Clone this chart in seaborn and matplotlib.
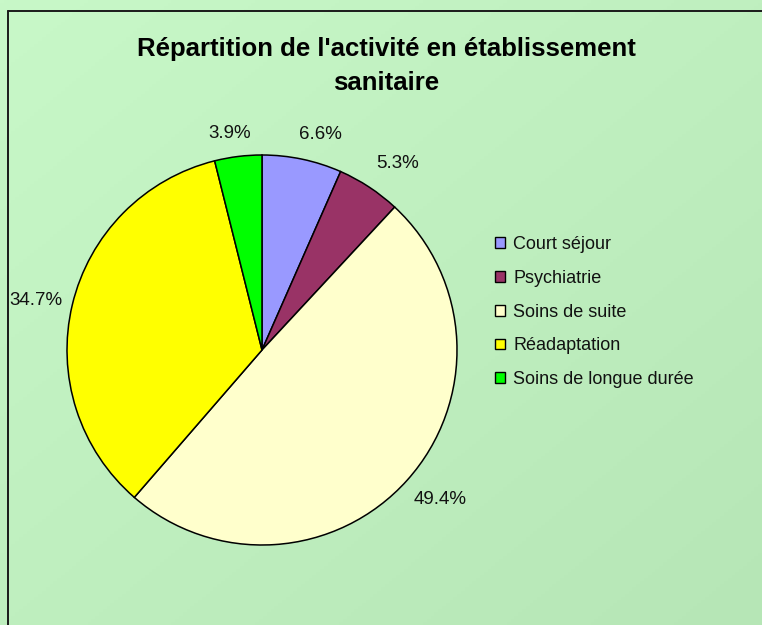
import numpy as np
import seaborn as sns
import matplotlib.pyplot as plt
from matplotlib.lines import Line2D
from matplotlib.patches import Patch

# data
categories = ['Court séjour', 'Psychiatrie', 'Soins de suite', 'Réadaptation', 'Soins de longue durée']
shares = [6.6, 5.3, 49.4, 34.7, 3.9]
colors = ['#9999FF', '#993366', '#FFFFCC', '#FFFF00', '#00FF00']
title = "Répartition de l'activité en établissement\nsanitaire"

# small hand nudges of the percentage labels (pixels, x right / y down)
label_nudge = [(10, 3), (6, 0), (-1, 1), (8, 2), (-3, 5)]

sns.set_theme(style='white')
plt.rcParams['font.family'] = ['Liberation Sans', 'DejaVu Sans']
plt.rcParams['text.color'] = '#000000'

W, H = 762, 625
fig = plt.figure(figsize=(W / 100, H / 100), dpi=100)

# gradient background
bg = fig.add_axes([0, 0, 1, 1], zorder=-10)
yy, xx = np.mgrid[0:1:200j, 0:1:200j]
t = (xx + yy) / 2
c0 = np.array([200, 248, 200]) / 255
c1 = np.array([182, 230, 182]) / 255
img = c0[None, None, :] * (1 - t[..., None]) + c1[None, None, :] * t[..., None]
bg.imshow(img, aspect='auto', extent=[0, 1, 0, 1], origin='upper')
bg.set_axis_off()

# chart frame (cropped at right and bottom)
fx, fy = 8 / W, 1 - 11 / H
fig.add_artist(Line2D([fx, fx], [0, fy], transform=fig.transFigure, color='#1a1a1a', lw=1.4))
fig.add_artist(Line2D([fx, 1], [fy, fy], transform=fig.transFigure, color='#1a1a1a', lw=1.4))

# pie
cx, cy, r = 262, 350, 195
ax = fig.add_axes([(cx - r) / W, (H - cy - r) / H, 2 * r / W, 2 * r / H])
palette = sns.color_palette(colors)
wedges, _ = ax.pie(shares, colors=palette, startangle=90, counterclock=False,
                   wedgeprops=dict(edgecolor='black', linewidth=1.1))
ax.set_xlim(-1, 1)
ax.set_ylim(-1, 1)
ax.set_aspect('equal')
ax.set_axis_off()

# percentage labels: box placed just outside the slice, Excel style
fig.canvas.draw()
renderer = fig.canvas.get_renderer()
for w, v, (nx, ny) in zip(wedges, shares, label_nudge):
    th = np.deg2rad((w.theta1 + w.theta2) / 2)
    c, s = np.cos(th), np.sin(th)
    txt = ax.text(0, 0, f'{v:.1f}%', fontsize=13.5)
    bb = txt.get_window_extent(renderer)
    txt.remove()
    ax.annotate(f'{v:.1f}%', xy=(1.1 * c, 1.1 * s),
                xytext=(bb.width / 2 * c + nx, bb.height / 2 * s - ny),
                textcoords='offset pixels', ha='center', va='center',
                fontsize=13.5, color='#111111', annotation_clip=False)

fig.text(386 / W, 1 - 66 / H, title, ha='center', va='center', fontsize=18.5,
         fontweight='bold', linespacing=1.5, color='#000000')

handles = [Patch(facecolor=c, edgecolor='black', linewidth=1.0) for c in colors]
fig.legend(handles, categories, loc='upper left', bbox_to_anchor=(486 / W, 1 - 227 / H),
           frameon=False, fontsize=13, handlelength=0.55, handleheight=0.55,
           handletextpad=0.45, labelspacing=0.93, borderpad=0, labelcolor='#111111')

fig.savefig('out.png', dpi=100)
